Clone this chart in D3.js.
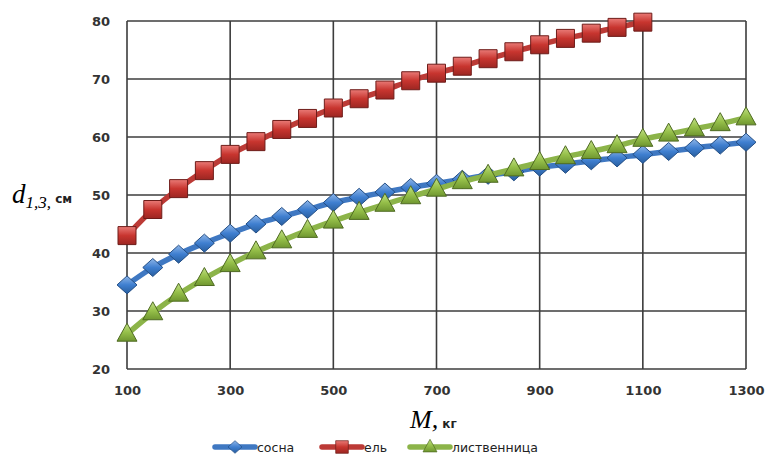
<!DOCTYPE html>
<html>
<head>
<meta charset="utf-8">
<script src="https://cdn.jsdelivr.net/npm/d3@7"></script>
<style>
  body { margin: 0; background: #fff; }
  svg { display: block; }
  .tick-label { font-family: Verdana, "DejaVu Sans", sans-serif; font-size: 13px; fill: #333; font-weight: bold; }
  .legend-text { font-family: Verdana, "DejaVu Sans", sans-serif; font-size: 12.5px; fill: #222; }
</style>
</head>
<body>
<div id="chart"></div>
<script>
// masses, kg
var masses = [100, 150, 200, 250, 300, 350, 400, 450, 500, 550, 600, 650, 700,
  750, 800, 850, 900, 950, 1000, 1050, 1100, 1150, 1200, 1250, 1300];

// сосна
var sosna = [34.5, 37.5, 39.8, 41.7, 43.4, 45.0, 46.3, 47.5, 48.7, 49.6, 50.5, 51.3, 52.0,
  52.7, 53.4, 54.0, 54.8, 55.3, 55.9, 56.4, 57.0, 57.5, 58.1, 58.6, 59.1];

// ель (stops at 1100)
var el = [43.0, 47.5, 51.1, 54.2, 57.0, 59.2, 61.3, 63.2, 65.0, 66.6, 68.1, 69.7, 71.0,
  72.2, 73.5, 74.7, 75.9, 77.0, 77.9, 78.9, 79.8];

// лиственница
var listv = [26.0, 29.7, 32.9, 35.6, 38.0, 40.2, 42.1, 43.9, 45.5, 47.0, 48.4, 49.7, 51.0,
  52.3, 53.4, 54.5, 55.6, 56.6, 57.5, 58.5, 59.6, 60.5, 61.4, 62.3, 63.3];

var xTicks = [100, 300, 500, 700, 900, 1100, 1300];
var yTicks = [20, 30, 40, 50, 60, 70, 80];

var width = 766, height = 454;
var margin = { top: 21, right: 20, bottom: 85, left: 127 };

var svg = d3.select('#chart').append('svg')
  .attr('width', width)
  .attr('height', height);

var x = d3.scaleLinear().domain([100, 1300]).range([margin.left, width - margin.right]);
var y = d3.scaleLinear().domain([20, 80]).range([height - margin.bottom, margin.top]);

var defs = svg.append('defs');

// bevel-ish gradients for the markers
function addGradient(id, light, mid, dark) {
  var g = defs.append('linearGradient').attr('id', id)
    .attr('x1', '0%').attr('y1', '0%').attr('x2', '0%').attr('y2', '100%');
  g.append('stop').attr('offset', '0%').attr('stop-color', light);
  g.append('stop').attr('offset', '50%').attr('stop-color', mid);
  g.append('stop').attr('offset', '100%').attr('stop-color', dark);
}
addGradient('grad-blue', '#8fb6e8', '#3f7fd0', '#285e9e');
addGradient('grad-red', '#e97a76', '#c8352f', '#9c2622');
addGradient('grad-green', '#c3e088', '#96c04a', '#6f9630');

// grid
var grid = svg.append('g');
grid.selectAll('.hgrid').data(yTicks).enter().append('line')
  .attr('x1', x(100)).attr('x2', x(1300))
  .attr('y1', function (d) { return y(d); })
  .attr('y2', function (d) { return y(d); })
  .attr('stroke', '#3c3c3c').attr('stroke-width', 1.6);
grid.selectAll('.vgrid').data(xTicks).enter().append('line')
  .attr('y1', y(20)).attr('y2', y(80))
  .attr('x1', function (d) { return x(d); })
  .attr('x2', function (d) { return x(d); })
  .attr('stroke', '#3c3c3c').attr('stroke-width', 1.6);

// axes (labels only, Excel style)
var yAxis = d3.axisLeft(y).tickValues(yTicks).tickSize(0).tickPadding(17);
var gy = svg.append('g').attr('transform', 'translate(' + margin.left + ',0)').call(yAxis);
gy.select('.domain').remove();
gy.selectAll('text').attr('class', 'tick-label');

var xAxis = d3.axisBottom(x).tickValues(xTicks).tickSize(0).tickPadding(17).tickFormat(d3.format('d'));
var gx = svg.append('g').attr('transform', 'translate(0,' + y(20) + ')').call(xAxis);
gx.select('.domain').remove();
gx.selectAll('text').attr('class', 'tick-label');

// series
var series = [
  { name: 'сосна', values: sosna, line: '#3f78c2', grad: 'url(#grad-blue)', stroke: '#244f86', shape: 'diamond' },
  { name: 'ель', values: el, line: '#bc3a36', grad: 'url(#grad-red)', stroke: '#6e1c19', shape: 'square' },
  { name: 'лиственница', values: listv, line: '#8cb449', grad: 'url(#grad-green)', stroke: '#4f6b22', shape: 'triangle' }
];

function markerPath(shape) {
  if (shape === 'diamond') return 'M0,-9L10,0L0,9L-10,0Z';
  if (shape === 'square') return 'M-9,-9L9,-9L9,9L-9,9Z';
  return 'M0,-11L10,7L-10,7Z';
}

var line = d3.line()
  .x(function (d) { return x(d[0]); })
  .y(function (d) { return y(d[1]); })
  .curve(d3.curveMonotoneX);

series.forEach(function (s) {
  var pts = s.values.map(function (v, i) { return [masses[i], v]; });
  var g = svg.append('g');
  g.append('path').datum(pts)
    .attr('d', line)
    .attr('fill', 'none')
    .attr('stroke', s.line)
    .attr('stroke-width', 5.5)
    .attr('stroke-linejoin', 'round');
  g.selectAll('.mk').data(pts).enter().append('path')
    .attr('d', markerPath(s.shape))
    .attr('transform', function (d) { return 'translate(' + x(d[0]) + ',' + y(d[1]) + ')'; })
    .attr('fill', s.grad)
    .attr('stroke', s.stroke)
    .attr('stroke-width', 1);
});

// y-axis title: d_{1,3}, см
var yt = svg.append('text').attr('x', 12).attr('y', 203);
yt.append('tspan').text('d')
  .attr('font-family', '"Liberation Serif", "DejaVu Serif", serif')
  .attr('font-style', 'italic').attr('font-size', 27);
yt.append('tspan').text('1,3,').attr('dy', 5)
  .attr('font-family', '"Liberation Serif", "DejaVu Serif", serif')
  .attr('font-style', 'italic').attr('font-size', 17);
yt.append('tspan').text(' см').attr('dy', -5)
  .attr('font-family', 'Verdana, "DejaVu Sans", sans-serif')
  .attr('font-weight', 'bold').attr('font-size', 12).attr('fill', '#222');

// x-axis title: M, кг
var xt = svg.append('text').attr('x', 410).attr('y', 428);
xt.append('tspan').text('M,')
  .attr('font-family', '"Liberation Serif", "DejaVu Serif", serif')
  .attr('font-style', 'italic').attr('font-size', 26);
xt.append('tspan').text(' кг')
  .attr('font-family', 'Verdana, "DejaVu Sans", sans-serif')
  .attr('font-weight', 'bold').attr('font-size', 12).attr('fill', '#222');

// legend
var legendX = [213, 320, 408];
var legend = svg.append('g').attr('transform', 'translate(0,447)');
series.forEach(function (s, i) {
  var lg = legend.append('g').attr('transform', 'translate(' + legendX[i] + ',0)');
  lg.append('line').attr('x1', 2).attr('x2', 42).attr('y1', 0).attr('y2', 0)
    .attr('stroke', s.line).attr('stroke-width', 5.5).attr('stroke-linecap', 'round');
  lg.append('path').attr('d', markerPath(s.shape))
    .attr('transform', 'translate(22,0) scale(0.7)')
    .attr('fill', s.grad).attr('stroke', s.stroke).attr('stroke-width', 1);
  lg.append('text').attr('class', 'legend-text')
    .attr('x', 44).attr('y', 4.5).text(s.name);
});
</script>
</body>
</html>
